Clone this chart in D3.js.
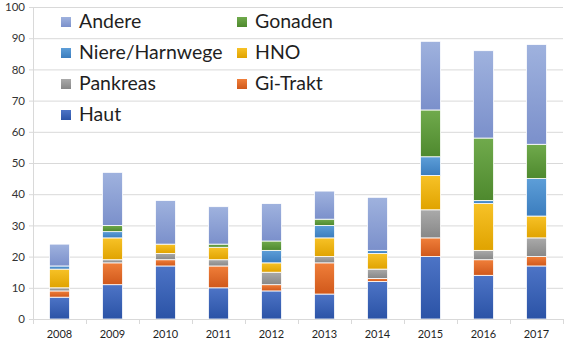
<!DOCTYPE html>
<html>
<head>
<meta charset="utf-8">
<script src="https://cdn.jsdelivr.net/npm/d3@7/dist/d3.min.js"></script>
<style>
  html, body { margin: 0; padding: 0; background: #fff; }
  svg { display: block; }
  text { font-family: Lato, "Open Sans", sans-serif; }
</style>
</head>
<body>
<svg id="chart" width="565" height="345"></svg>
<script>
// Cases per year and site, stacked from bottom to top
const years    = ["2008","2009","2010","2011","2012","2013","2014","2015","2016","2017"];
const haut     = [7, 11, 17, 10, 9, 8, 12, 20, 14, 17];
const giTrakt  = [2, 7, 2, 7, 2, 10, 1, 6, 5, 3];
const pankreas = [1, 1, 2, 2, 4, 2, 3, 9, 3, 6];
const hno      = [6, 7, 3, 4, 3, 6, 5, 11, 15, 7];
const niere    = [1, 2, 0, 0, 4, 4, 1, 6, 1, 12];
const gonaden  = [0, 2, 0, 1, 3, 2, 0, 15, 20, 11];
const andere   = [7, 17, 14, 12, 12, 9, 17, 22, 28, 32];
const yTicks   = [0, 10, 20, 30, 40, 50, 60, 70, 80, 90, 100];

const seriesNames = ["Haut", "Gi-Trakt", "Pankreas", "HNO", "Niere/Harnwege", "Gonaden", "Andere"];
const seriesValues = [haut, giTrakt, pankreas, hno, niere, gonaden, andere];
// light (top) and dark (bottom) shade of each series
const shades = {
  "Haut":           ["#4d74c6", "#2b53a6"],
  "Gi-Trakt":       ["#f07f3a", "#d0581b"],
  "Pankreas":       ["#aaaaaa", "#878787"],
  "HNO":            ["#f7c227", "#e0a300"],
  "Niere/Harnwege": ["#5d9ed8", "#3b7dbe"],
  "Gonaden":        ["#70aa4c", "#4e892e"],
  "Andere":         ["#9fb2de", "#7b90cb"]
};

const rows = years.map((yr, i) => {
  const r = { year: yr };
  seriesNames.forEach((s, k) => { r[s] = seriesValues[k][i]; });
  return r;
});

const svg = d3.select("#chart");
const plotLeft = 33, plotRight = 563, plotTop = 7, plotBottom = 319;

const x = d3.scaleBand().domain(years).range([plotLeft, plotRight]).paddingInner(0.62).paddingOuter(0.31);
const y = d3.scaleLinear().domain([0, 100]).range([plotBottom, plotTop]);

// gradients
const defs = svg.append("defs");
seriesNames.forEach((s, k) => {
  const g = defs.append("linearGradient")
    .attr("id", "grad" + k)
    .attr("x1", 0).attr("y1", 0).attr("x2", 0).attr("y2", 1);
  g.append("stop").attr("offset", "0%").attr("stop-color", shades[s][0]);
  g.append("stop").attr("offset", "100%").attr("stop-color", shades[s][1]);
});

// horizontal gridlines and y labels
const yAxis = d3.axisLeft(y).tickValues(yTicks).tickSize(-(plotRight - plotLeft)).tickPadding(8);
const gy = svg.append("g").attr("transform", `translate(${plotLeft},0)`).call(yAxis);
gy.select(".domain").remove();
gy.selectAll(".tick line").attr("stroke", "#d9d9d9").attr("stroke-width", 1)
  .attr("x1", -4);
gy.selectAll(".tick text").attr("fill", "#333").attr("font-size", "11.5px");

// vertical axis line
svg.append("line").attr("x1", plotLeft + 0.5).attr("x2", plotLeft + 0.5)
  .attr("y1", y(100)).attr("y2", plotBottom).attr("stroke", "#d9d9d9");

// legend (drawn over the gridlines, no background)
const legendCols = [
  ["Andere", "Niere/Harnwege", "Pankreas", "Haut"],
  ["Gonaden", "HNO", "Gi-Trakt"]
];
const legendX = [61, 237];
legendCols.forEach((col, c) => {
  col.forEach((s, r) => {
    const k = seriesNames.indexOf(s);
    const by = 28 + r * 31;
    svg.append("rect").attr("x", legendX[c]).attr("y", by - 11)
      .attr("width", 10).attr("height", 10).attr("fill", `url(#grad${k})`);
    svg.append("text").attr("x", legendX[c] + 18).attr("y", by)
      .attr("font-size", "19.5px").attr("fill", "#1f1f1f").text(s);
  });
});

// stacked bars
const stack = d3.stack().keys(seriesNames)(rows);
svg.append("g").selectAll("g").data(stack).join("g")
  .attr("fill", (d, k) => `url(#grad${k})`)
  .selectAll("rect").data(d => d.filter(p => p[1] - p[0] > 0)).join("rect")
  .attr("x", d => x(d.data.year))
  .attr("width", x.bandwidth())
  .attr("y", d => y(d[1]))
  .attr("height", d => y(d[0]) - y(d[1]))
  .attr("stroke", "#fff").attr("stroke-width", 0.8);

// x axis
const xAxis = d3.axisBottom(x).tickSize(0).tickPadding(11);
const gx = svg.append("g").attr("transform", `translate(0,${plotBottom})`).call(xAxis);
gx.select(".domain").attr("stroke", "#d9d9d9").attr("d", `M${plotLeft},0.5H${plotRight}`);
gx.selectAll(".tick text").attr("fill", "#1f1f1f").attr("font-size", "11px");
// tick marks between categories
const step = x.step();
d3.range(years.length + 1).forEach(i => {
  const xx = Math.round(plotLeft + i * step) + 0.5;
  gx.append("line").attr("x1", xx).attr("x2", xx).attr("y1", 0).attr("y2", 5).attr("stroke", "#d9d9d9");
});
</script>
</body>
</html>
